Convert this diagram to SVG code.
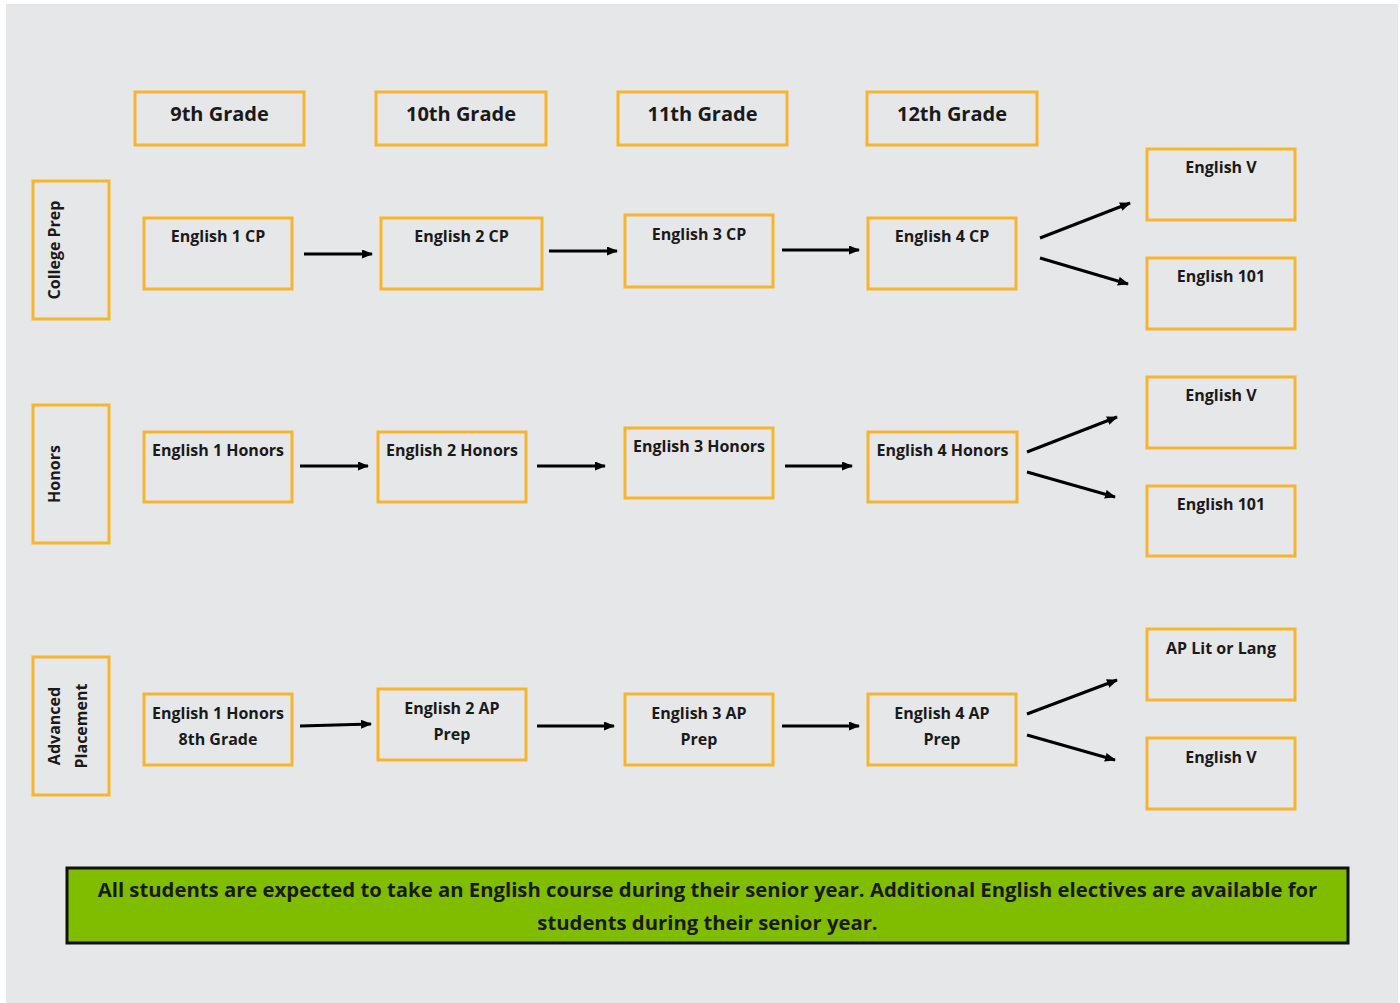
<svg xmlns="http://www.w3.org/2000/svg" width="1400" height="1003" viewBox="0 0 1400 1003">
<style>
.bx{fill:none;stroke:#f6b52c;stroke-width:3}
.t{font-family:"Open Sans","Liberation Sans",sans-serif;font-weight:700;font-size:16px;fill:#1a1a1a;text-anchor:middle}
.h{font-family:"Open Sans","Liberation Sans",sans-serif;font-weight:700;font-size:20px;fill:#1a1a1a;text-anchor:middle}
.n{font-family:"Open Sans","Liberation Sans",sans-serif;font-weight:700;font-size:20.3px;fill:#1a1a1a;text-anchor:middle}
.c{stroke:#000;stroke-width:3;fill:none;marker-end:url(#ah)}
</style>
<defs>
<marker id="ah" viewBox="0 0 11 9" refX="10" refY="4.5" markerWidth="11" markerHeight="9" markerUnits="userSpaceOnUse" orient="auto">
<path d="M0,0 L11,4.5 L0,9 Z" fill="#000"/>
</marker>
</defs>
<rect x="0" y="0" width="1400" height="1003" fill="#ffffff"/>
<rect x="6" y="4" width="1392" height="999" fill="#e6e7e8"/>

<g id="grade9"><rect class="bx" x="135" y="92" width="169" height="53"/><text class="h" x="219.5" y="121">9th Grade</text></g>
<g id="grade10"><rect class="bx" x="376" y="92" width="170" height="53"/><text class="h" x="461" y="121">10th Grade</text></g>
<g id="grade11"><rect class="bx" x="618" y="92" width="169" height="53"/><text class="h" x="702.5" y="121">11th Grade</text></g>
<g id="grade12"><rect class="bx" x="867" y="92" width="170" height="53"/><text class="h" x="952" y="121">12th Grade</text></g>

<g id="lane-cp"><rect class="bx" x="33" y="181" width="76" height="138"/><text class="t" transform="translate(60,250) rotate(-90)">College Prep</text></g>
<g id="lane-honors"><rect class="bx" x="33" y="405" width="76" height="138"/><text class="t" transform="translate(60,474) rotate(-90)">Honors</text></g>
<g id="lane-ap"><rect class="bx" x="33" y="657" width="76" height="138"/><text class="t" transform="translate(60,726) rotate(-90)">Advanced</text><text class="t" transform="translate(87,726) rotate(-90)">Placement</text></g>

<g id="cp1"><rect class="bx" x="144" y="218" width="148" height="71"/><text class="t" x="218" y="242">English 1 CP</text></g>
<g id="cp2"><rect class="bx" x="381" y="218" width="161" height="71"/><text class="t" x="461.5" y="242">English 2 CP</text></g>
<g id="cp3"><rect class="bx" x="625" y="215" width="148" height="72"/><text class="t" x="699" y="240">English 3 CP</text></g>
<g id="cp4"><rect class="bx" x="868" y="218" width="148" height="71"/><text class="t" x="942" y="242">English 4 CP</text></g>
<g id="cp5a"><rect class="bx" x="1147" y="149" width="148" height="71"/><text class="t" x="1221" y="173">English V</text></g>
<g id="cp5b"><rect class="bx" x="1147" y="258" width="148" height="71"/><text class="t" x="1221" y="282">English 101</text></g>

<g id="h1"><rect class="bx" x="144" y="432" width="148" height="70"/><text class="t" x="218" y="456">English 1 Honors</text></g>
<g id="h2"><rect class="bx" x="378" y="432" width="148" height="70"/><text class="t" x="452" y="456">English 2 Honors</text></g>
<g id="h3"><rect class="bx" x="625" y="428" width="148" height="70"/><text class="t" x="699" y="452">English 3 Honors</text></g>
<g id="h4"><rect class="bx" x="868" y="432" width="149" height="70"/><text class="t" x="942.5" y="456">English 4 Honors</text></g>
<g id="h5a"><rect class="bx" x="1147" y="377" width="148" height="71"/><text class="t" x="1221" y="401">English V</text></g>
<g id="h5b"><rect class="bx" x="1147" y="486" width="148" height="70"/><text class="t" x="1221" y="510">English 101</text></g>

<g id="ap1"><rect class="bx" x="144" y="694" width="148" height="71"/><text class="t" x="218" y="719">English 1 Honors</text><text class="t" x="218" y="745">8th Grade</text></g>
<g id="ap2"><rect class="bx" x="378" y="689" width="148" height="71"/><text class="t" x="452" y="714">English 2 AP</text><text class="t" x="452" y="740">Prep</text></g>
<g id="ap3"><rect class="bx" x="625" y="694" width="148" height="71"/><text class="t" x="699" y="719">English 3 AP</text><text class="t" x="699" y="745">Prep</text></g>
<g id="ap4"><rect class="bx" x="868" y="694" width="148" height="71"/><text class="t" x="942" y="719">English 4 AP</text><text class="t" x="942" y="745">Prep</text></g>
<g id="ap5a"><rect class="bx" x="1147" y="629" width="148" height="71"/><text class="t" x="1221" y="654">AP Lit or Lang</text></g>
<g id="ap5b"><rect class="bx" x="1147" y="738" width="148" height="71"/><text class="t" x="1221" y="763">English V</text></g>

<g id="connectors">
<line class="c" x1="304" y1="254" x2="372" y2="254"/>
<line class="c" x1="549" y1="251" x2="617" y2="251"/>
<line class="c" x1="782" y1="250" x2="859" y2="250"/>
<line class="c" x1="1040" y1="238" x2="1130" y2="203"/>
<line class="c" x1="1040" y1="258" x2="1128" y2="284"/>
<line class="c" x1="300" y1="466" x2="368" y2="466"/>
<line class="c" x1="537" y1="466" x2="605" y2="466"/>
<line class="c" x1="785" y1="466" x2="852" y2="466"/>
<line class="c" x1="1027" y1="452" x2="1117" y2="417"/>
<line class="c" x1="1027" y1="472" x2="1115" y2="497"/>
<line class="c" x1="300" y1="726" x2="371" y2="724"/>
<line class="c" x1="537" y1="726" x2="614" y2="726"/>
<line class="c" x1="782" y1="726" x2="859" y2="726"/>
<line class="c" x1="1027" y1="714" x2="1117" y2="680"/>
<line class="c" x1="1027" y1="735" x2="1115" y2="760"/>
</g>

<g id="note"><rect x="67" y="868" width="1281" height="75" fill="#80bc00" stroke="#111" stroke-width="3"/>
<text class="n" x="707.5" y="897">All students are expected to take an English course during their senior year. Additional English electives are available for</text>
<text class="n" x="707.5" y="930">students during their senior year.</text></g>
</svg>
